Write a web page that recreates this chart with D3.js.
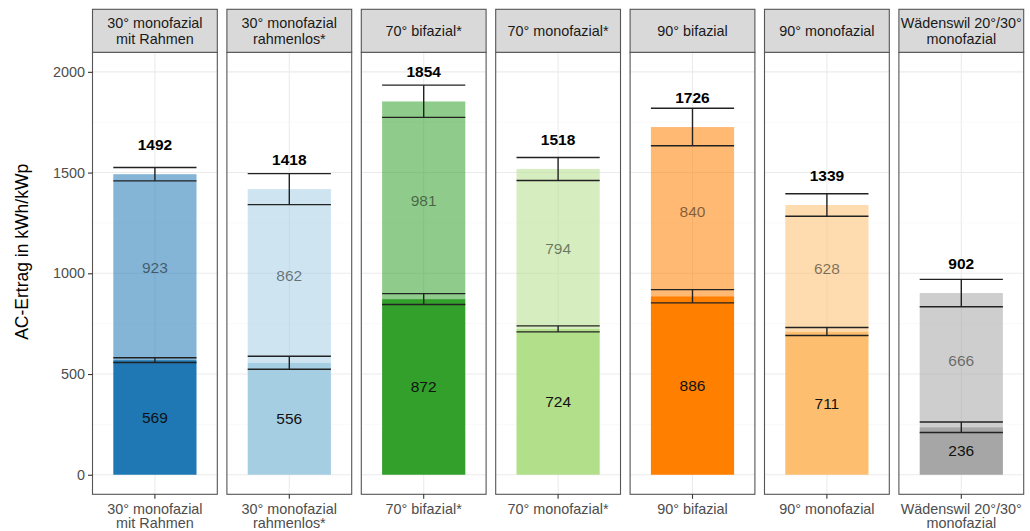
<!DOCTYPE html>
<html>
<head>
<meta charset="utf-8">
<script src="https://cdn.jsdelivr.net/npm/d3@7"></script>
<style>
  html, body { margin: 0; padding: 0; background: #fff; }
  svg { display: block; font-family: "Liberation Sans", Arial, sans-serif; }
</style>
</head>
<body>
<svg id="chart" width="1030" height="531"></svg>
<script>
// Facets (one per module setup), label lines for strips and x axis
const categories = ["30° monofazial mit Rahmen", "30° monofazial rahmenlos*", "70° bifazial*",
  "70° monofazial*", "90° bifazial", "90° monofazial", "Wädenswil 20°/30° monofazial"];
const labelLines = [["30° monofazial", "mit Rahmen"], ["30° monofazial", "rahmenlos*"], ["70° bifazial*"],
  ["70° monofazial*"], ["90° bifazial"], ["90° monofazial"], ["Wädenswil 20°/30°", "monofazial"]];

// Yield per segment (kWh/kWp) and uncertainty
const lowerValues = [569, 556, 872, 724, 886, 711, 236];
const upperValues = [923, 862, 981, 794, 840, 628, 666];
const totals      = [1492, 1418, 1854, 1518, 1726, 1339, 902];
const lowerErr    = [12, 32, 27, 15, 33, 20, 26];
const totalErr    = [33, 77, 80, 57, 93, 56, 68];
const colors      = ["#1f78b4", "#a6cee3", "#33a02c", "#b2df8a", "#ff7f00", "#fdbf6f", "#a6a6a6"];

const yTicks = [0, 500, 1000, 1500, 2000];
const yMinor = [250, 750, 1250, 1750];

const svg = d3.select("#chart");

const panelTop = 52.3, panelBottom = 494.3;
const stripTop = 9.3;

const fx = d3.scaleBand().domain(categories).range([92.5, 1023.7]).paddingInner(0.0714).paddingOuter(0);
const y = d3.scaleLinear().domain([-97, 2097]).range([panelBottom, panelTop]);

// bar inside each facet: discrete scale with one level, width 0.8 over [0.4, 1.6]
const inner = d3.scaleBand().domain(["x"]).range([0, fx.bandwidth()]).paddingInner(0).paddingOuter(0);
const barW = fx.bandwidth() * 0.8 / 1.2;

categories.forEach((cat, i) => {
  const x0 = fx(cat), w = fx.bandwidth();
  const cx = x0 + inner("x") + inner.bandwidth() / 2;
  const g = svg.append("g");

  // panel background & grid
  g.append("rect").attr("x", x0).attr("y", panelTop).attr("width", w).attr("height", panelBottom - panelTop)
    .attr("fill", "#fff");
  g.selectAll("line.minor").data(yMinor).join("line")
    .attr("x1", x0).attr("x2", x0 + w).attr("y1", d => y(d)).attr("y2", d => y(d))
    .attr("stroke", "#f5f5f5").attr("stroke-width", 0.6);
  g.selectAll("line.major").data(yTicks).join("line")
    .attr("x1", x0).attr("x2", x0 + w).attr("y1", d => y(d)).attr("y2", d => y(d))
    .attr("stroke", "#ebebeb").attr("stroke-width", 1.1);
  g.append("line").attr("x1", cx).attr("x2", cx).attr("y1", panelTop).attr("y2", panelBottom)
    .attr("stroke", "#ebebeb").attr("stroke-width", 1.1);

  // stacked bars
  const bx = cx - barW / 2;
  const lo = lowerValues[i], up = upperValues[i];
  g.append("rect").attr("x", bx).attr("width", barW)
    .attr("y", y(lo)).attr("height", y(0) - y(lo)).attr("fill", colors[i]);
  g.append("rect").attr("x", bx).attr("width", barW)
    .attr("y", y(lo + up)).attr("height", y(lo) - y(lo + up))
    .attr("fill", colors[i]).attr("fill-opacity", 0.55);

  // segment labels
  g.append("text").attr("x", cx).attr("y", y(lo / 2)).attr("dy", "0.35em")
    .attr("text-anchor", "middle").attr("font-size", 15.5).attr("fill", "#111").text(lo);
  g.append("text").attr("x", cx).attr("y", y(lo + up / 2)).attr("dy", "0.35em")
    .attr("text-anchor", "middle").attr("font-size", 15.5).attr("fill", "#000").attr("fill-opacity", 0.5).text(up);

  // error bars
  const errs = [[lo, lowerErr[i]], [totals[i], totalErr[i]]];
  errs.forEach(([v, e]) => {
    const eg = g.append("g").attr("stroke", "#222").attr("stroke-width", 1.4);
    eg.append("line").attr("x1", bx).attr("x2", bx + barW).attr("y1", y(v + e)).attr("y2", y(v + e));
    eg.append("line").attr("x1", bx).attr("x2", bx + barW).attr("y1", y(v - e)).attr("y2", y(v - e));
    eg.append("line").attr("x1", cx).attr("x2", cx).attr("y1", y(v + e)).attr("y2", y(v - e));
  });

  // total label
  g.append("text").attr("x", cx).attr("y", y(totals[i] + 146)).attr("dy", "0.35em")
    .attr("text-anchor", "middle").attr("font-size", 15.5).attr("font-weight", "bold").attr("fill", "#000")
    .text(totals[i]);

  // panel border
  g.append("rect").attr("x", x0).attr("y", panelTop).attr("width", w).attr("height", panelBottom - panelTop)
    .attr("fill", "none").attr("stroke", "#555").attr("stroke-width", 1.1);

  // strip
  g.append("rect").attr("x", x0).attr("y", stripTop).attr("width", w).attr("height", panelTop - stripTop)
    .attr("fill", "#d9d9d9").attr("stroke", "#555").attr("stroke-width", 1.1);
  const lines = labelLines[i];
  const stripMid = (stripTop + panelTop) / 2;
  lines.forEach((t, k) => {
    g.append("text").attr("x", x0 + w / 2)
      .attr("y", stripMid + (k - (lines.length - 1) / 2) * 15.5).attr("dy", "0.36em")
      .attr("text-anchor", "middle").attr("font-size", 14.4).attr("fill", "#1a1a1a").text(t);
  });

  // x axis tick and label
  g.append("line").attr("x1", cx).attr("x2", cx).attr("y1", panelBottom).attr("y2", panelBottom + 4.5)
    .attr("stroke", "#333").attr("stroke-width", 1.1);
  lines.forEach((t, k) => {
    g.append("text").attr("x", cx).attr("y", 513.5 + k * 14.5)
      .attr("text-anchor", "middle").attr("font-size", 14.4).attr("fill", "#4d4d4d").text(t);
  });
});

// y axis
const yAxis = d3.axisLeft(y).tickValues(yTicks).tickSize(4.5).tickPadding(3).tickFormat(d3.format("d"));
const ya = svg.append("g").attr("transform", `translate(${fx(categories[0])},0)`).call(yAxis);
ya.select(".domain").remove();
ya.selectAll(".tick line").attr("stroke", "#333").attr("stroke-width", 1.1);
ya.selectAll(".tick text").attr("font-size", 14.4).attr("fill", "#4d4d4d")
  .attr("font-family", "Liberation Sans, Arial, sans-serif");

// y axis title
svg.append("text").attr("transform", `translate(28,${(stripTop + panelBottom) / 2}) rotate(-90)`)
  .attr("text-anchor", "middle").attr("font-size", 17.5).attr("fill", "#000")
  .text("AC-Ertrag in kWh/kWp");
</script>
</body>
</html>
